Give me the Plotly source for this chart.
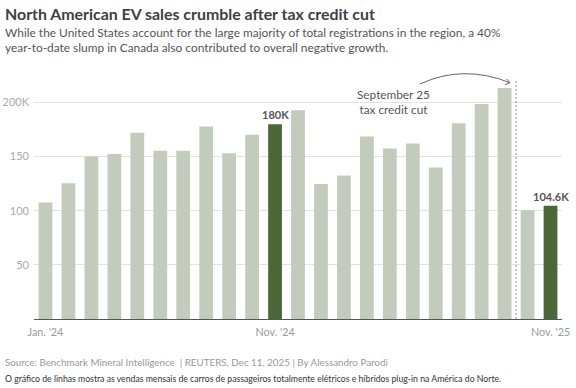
import plotly.graph_objects as go

months = ["Jan. '24", "Feb. '24", "Mar. '24", "Apr. '24", "May '24", "Jun. '24",
          "Jul. '24", "Aug. '24", "Sep. '24", "Oct. '24", "Nov. '24", "Dec. '24",
          "Jan. '25", "Feb. '25", "Mar. '25", "Apr. '25", "May '25", "Jun. '25",
          "Jul. '25", "Aug. '25", "Sep. '25", "Oct. '25", "Nov. '25"]
sales_k = [107.6, 125.5, 150.0, 152.5, 172.0, 155.5, 155.3, 177.7, 153.0, 170.3,
           180.0, 192.8, 124.8, 132.5, 168.5, 157.4, 162.0, 140.0, 180.8, 198.6,
           213.4, 100.5, 104.6]
highlight = ["Nov. '24", "Nov. '25"]
highlight_labels = ["180K", "104.6K"]
x_ticks = ["Jan. '24", "Nov. '24", "Nov. '25"]
y_ticks = [50, 100, 150, 200]
y_ticktext = ["50", "100", "150", "200K"]

LIGHT = "#c3cbbc"
DARK = "#4b6637"
FONT = "Lato"

W, H = 576, 388
L, R, T, B = 34, 14, 70, 69
YMAX = 230
n = len(months)
pw, ph = W - L - R, H - T - B

def px2x(px):
    return (px - L) / pw * n - 0.5

def py2y(py):
    return (H - B - py) / ph * YMAX

def px2p(px):
    return (px - L) / pw

def py2p(py):
    return (H - B - py) / ph

colors = [DARK if m in highlight else LIGHT for m in months]

fig = go.Figure(go.Bar(x=months, y=sales_k, marker=dict(color=colors, line=dict(width=0)),
                       hoverinfo="x+y"))

annotations = []
for m, lab in zip(highlight, highlight_labels):
    annotations.append(dict(x=m, y=sales_k[months.index(m)], text=f"<b>{lab}</b>",
                            showarrow=False, yanchor="bottom", yshift=1,
                            font=dict(family=FONT, size=11, color="#555555")))

annotations.append(dict(x=px2x(393), y=py2y(102), text="September 25<br>tax credit cut",
                        showarrow=False, xanchor="center", yanchor="middle", align="center",
                        font=dict(family=FONT, size=11.8, color="#555555")))

# title block
annotations += [
    dict(xref="paper", yref="paper", x=px2p(3), y=py2p(2), xanchor="left", yanchor="top",
         text="<b>North American EV sales crumble after tax credit cut</b>", showarrow=False,
         font=dict(family=FONT, size=15.9, color="#404040")),
    dict(xref="paper", yref="paper", x=px2p(3), y=py2p(23), xanchor="left", yanchor="top",
         text="While the United States account for the large majority of total registrations in the region, a 40%<br>"
              "year-to-date slump in Canada also contributed to overall negative growth.",
         showarrow=False, align="left",
         font=dict(family=FONT, size=11.9, color="#555555")),
    dict(xref="paper", yref="paper", x=px2p(3), y=py2p(362), xanchor="left", yanchor="middle",
         text="Source: Benchmark Mineral Intelligence  | REUTERS, Dec 11, 2025 | By Alessandro Parodi",
         showarrow=False, font=dict(family=FONT, size=9.8, color="#999999")),
    dict(xref="paper", yref="paper", x=px2p(3), y=py2p(378), xanchor="left", yanchor="middle",
         text="O gráfico de linhas mostra as vendas mensais de carros de passageiros totalmente elétricos e híbridos plug-in na América do Norte.",
         showarrow=False, font=dict(family=FONT, size=8.7, color="#333333")),
]

# curved arrow
x0, y0 = px2x(420), py2y(84)
xc, yc = px2x(463), py2y(64)
x1, y1 = px2x(510), py2y(82.7)
a1x, a1y = px2x(506.6), py2y(79.0)
a2x, a2y = px2x(505.0), py2y(84.6)
shapes = [
    dict(type="path", xref="x", yref="y",
         path=f"M {x0},{y0} Q {xc},{yc} {x1},{y1}",
         line=dict(color="#666666", width=1)),
    dict(type="path", xref="x", yref="y",
         path=f"M {a1x},{a1y} L {x1},{y1} L {a2x},{a2y}",
         line=dict(color="#666666", width=1)),
    dict(type="line", xref="x", yref="y", x0=n - 2.5, x1=n - 2.5, y0=0, y1=py2y(80.7),
         line=dict(color="#888888", width=1, dash="2px,2px")),
]

fig.update_layout(
    width=W, height=H,
    margin=dict(l=L, r=R, t=T, b=B, pad=0, autoexpand=False),
    paper_bgcolor="white", plot_bgcolor="white",
    bargap=0.4, showlegend=False,
    annotations=annotations, shapes=shapes,
    font=dict(family=FONT),
    xaxis=dict(type="category", categoryorder="array", categoryarray=months,
               tickvals=x_ticks, ticktext=x_ticks, showgrid=False, automargin=False,
               showline=True, linecolor="#555555", linewidth=1, ticks="",
               ticklabelstandoff=3,
               tickfont=dict(family=FONT, size=10.8, color="#999999"),
               range=[-0.5, n - 0.5], fixedrange=True),
    yaxis=dict(range=[0, YMAX], tickvals=y_ticks, ticktext=y_ticktext, automargin=False,
               showgrid=True, gridcolor="#e2e2e2", gridwidth=1, zeroline=False,
               ticks="", ticklabelstandoff=4,
               tickfont=dict(family=FONT, size=11, color="#aaaaaa"), fixedrange=True),
)

fig.write_html("out.html", config={"displayModeBar": False},
               post_script="document.body.style.margin='0';document.body.style.overflow='hidden';")
